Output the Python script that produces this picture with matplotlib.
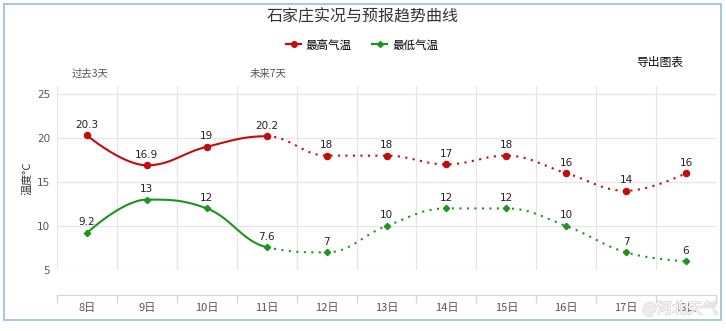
import numpy as np
import matplotlib
matplotlib.use("Agg")
import matplotlib.pyplot as plt
from matplotlib.lines import Line2D
from matplotlib.patches import Rectangle
import matplotlib.patheffects as pe

plt.rcParams['font.family'] = ['Noto Sans CJK SC', 'DejaVu Sans']

# ---- data ----
days = ["8日", "9日", "10日", "11日", "12日", "13日", "14日", "15日", "16日", "17日", "18日"]
high = [20.3, 16.9, 19, 20.2, 18, 18, 17, 18, 16, 14, 16]
low = [9.2, 13, 12, 7.6, 7, 10, 12, 12, 10, 7, 6]
past_count = 4  # points 8-11 observed (solid), then forecast (dotted)
yticks = [5, 10, 15, 20, 25]

W, H = 726, 331
fig = plt.figure(figsize=(W / 100, H / 100), dpi=100)

def fx(px):
    return px / W

def fy(py):
    return 1 - py / H

# plot area
left, right, top, bottom = 57, 716, 86, 270
ax = fig.add_axes([fx(left), fy(bottom), fx(right - left), (bottom - top) / H])

RED = '#c00d0d'
GREEN = '#1f931f'


def hc_spline(xs, ys, n=40):
    """Highcharts-style spline through points (smoothing 1.5)."""
    xs = np.asarray(xs, float)
    ys = np.asarray(ys, float)
    m = len(xs)
    lc = [(xs[i], ys[i]) for i in range(m)]
    rc = [(xs[i], ys[i]) for i in range(m)]
    s = 1.5
    d = s + 1
    for i in range(1, m - 1):
        px, py = xs[i], ys[i]
        lx, ly = xs[i - 1], ys[i - 1]
        nx, ny = xs[i + 1], ys[i + 1]
        lcx = (s * px + lx) / d
        lcy = (s * py + ly) / d
        rcx = (s * px + nx) / d
        rcy = (s * py + ny) / d
        corr = 0.0
        if rcx != lcx:
            corr = ((rcy - lcy) * (rcx - px)) / (rcx - lcx) + py - rcy
        lcy += corr
        rcy += corr
        if lcy > max(ly, py):
            lcy = max(ly, py)
            rcy = 2 * py - lcy
        elif lcy < min(ly, py):
            lcy = min(ly, py)
            rcy = 2 * py - lcy
        if rcy > max(ny, py):
            rcy = max(ny, py)
            lcy = 2 * py - rcy
        elif rcy < min(ny, py):
            rcy = min(ny, py)
            lcy = 2 * py - rcy
        lc[i] = (lcx, lcy)
        rc[i] = (rcx, rcy)
    segs = []
    t = np.linspace(0, 1, n)
    for i in range(m - 1):
        p0 = np.array([xs[i], ys[i]])
        p1 = np.array(rc[i])
        p2 = np.array(lc[i + 1])
        p3 = np.array([xs[i + 1], ys[i + 1]])
        pts = ((1 - t) ** 3)[:, None] * p0 + (3 * (1 - t) ** 2 * t)[:, None] * p1 \
            + (3 * (1 - t) * t ** 2)[:, None] * p2 + (t ** 3)[:, None] * p3
        segs.append(pts)
    return segs


x = np.arange(len(days))
dot_style = (0, (1, 2.6))

for vals, col, mk, ms in [(high, RED, 'o', 4.4), (low, GREEN, 'D', 3.2)]:
    segs = hc_spline(x, vals)
    solid = np.vstack(segs[:past_count - 1])
    dotted = np.vstack(segs[past_count - 1:])
    ax.plot(solid[:, 0], solid[:, 1], color=col, lw=1.5, zorder=3, solid_capstyle='round')
    ax.plot(dotted[:, 0], dotted[:, 1], color=col, lw=1.5, ls=dot_style, zorder=3)
    ax.plot(x, vals, ls='none', marker=mk, ms=ms, color=col, zorder=4)
    for xi, v in zip(x, vals):
        ax.annotate(f"{v:g}", (xi, v), xytext=(0, 4), textcoords='offset points',
                    ha='center', va='bottom', fontsize=7.5, color='#222222',
                    family='DejaVu Sans', zorder=5)

ax.set_xlim(-0.5, len(days) - 0.5)
# y scale: 25 at y=94, 5 at y=270
ppd = (270 - 94) / 20
ax.set_ylim(5, 25 + (94 - 86) / ppd)

ax.set_yticks(yticks)
ax.set_yticklabels([str(v) for v in yticks], family='DejaVu Sans')
ax.tick_params(axis='y', length=0, pad=5, labelsize=7.5, labelcolor='#555555')

ax.set_xticks(np.arange(-0.5, len(days), 1.0))
ax.set_xticks(x, minor=True)
ax.set_xticklabels([])
ax.set_xticklabels(days, minor=True)
ax.tick_params(axis='x', which='major', direction='out', length=6, color='#ccd6eb', width=1)
ax.tick_params(axis='x', which='minor', length=0, pad=6, labelsize=8, labelcolor='#555555')

ax.grid(True, which='major', axis='both', color='#e6e6e6', lw=0.9)
ax.set_axisbelow(True)
for sp in ['left', 'right', 'top']:
    ax.spines[sp].set_visible(False)
ax.spines['bottom'].set_position(('outward', 18))
ax.spines['bottom'].set_color('#ccd6eb')

ax.set_ylabel("温度°C", fontsize=8, color='#333333', labelpad=3)

# title and texts
fig.text(fx(363), fy(17), "石家庄实况与预报趋势曲线", ha='center', va='center',
         fontsize=11.5, color='#333333')
fig.text(fx(90), fy(74), "过去3天", ha='center', va='center', fontsize=7.5, color='#555555')
fig.text(fx(268), fy(74), "未来7天", ha='center', va='center', fontsize=7.5, color='#555555')
fig.text(fx(660), fy(62), "导出图表", ha='center', va='center', fontsize=8.5, color='#111111')

# legend
handles = [Line2D([], [], color=RED, lw=1.6, marker='o', ms=4),
           Line2D([], [], color=GREEN, lw=1.6, marker='D', ms=3)]
fig.legend(handles, ["最高气温", "最低气温"], loc='center',
           bbox_to_anchor=(fx(362), fy(45)), ncol=2, frameon=False,
           fontsize=8.3, handlelength=1.3, handletextpad=0.4, columnspacing=1.8)

# watermark
fig.text(fx(680), fy(309), "@河北天气", ha='center', va='center', fontsize=11,
         color='white', alpha=0.85,
         path_effects=[pe.withStroke(linewidth=1.0, foreground='#cfcfcf')])

# border
fig.patches.append(Rectangle((fx(4), fy(320)), fx(717), (316) / H, transform=fig.transFigure,
                             fill=False, edgecolor='#94c0d2', lw=1.2))

fig.savefig("out.png", dpi=100)
